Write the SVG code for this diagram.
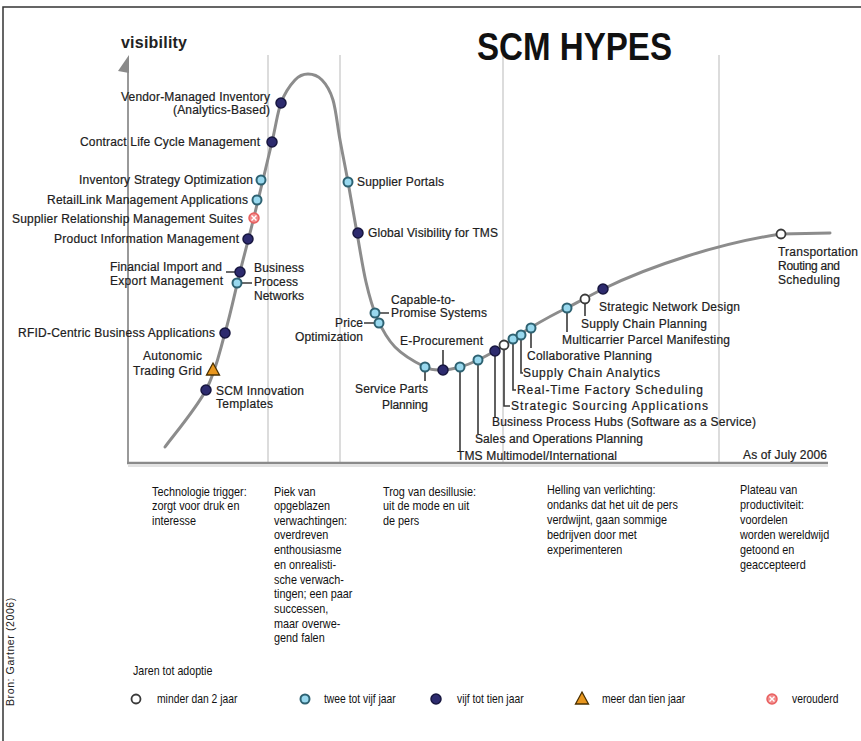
<svg xmlns="http://www.w3.org/2000/svg" width="861" height="741" viewBox="0 0 861 741">
<style>
.lbl{font-family:"Liberation Sans",Arial,sans-serif;font-size:12px;fill:#202020;stroke:#202020;stroke-width:0.2}
.e{text-anchor:end}
.desc{font-family:"Liberation Sans",Arial,sans-serif;font-size:13.4px;fill:#111}
.leg{font-family:"Liberation Sans",Arial,sans-serif;font-size:12.6px;fill:#111}
.d{fill:#2d2b6e;stroke:#17163f;stroke-width:1.5}
.l{fill:#98d8ee;stroke:#2e6272;stroke-width:2}
.w{fill:#fff;stroke:#3a3a3a;stroke-width:1.8}
.ld{stroke:#3a3a3a;stroke-width:1.6;fill:none}
.ph{stroke:#dcdcdc;stroke-width:2}
</style>
<defs>
<g id="obs"><circle r="5" fill="#f28a8a" stroke="#e86060" stroke-width="1.5"/><path d="M-2.5,-2.5L2.5,2.5M2.5,-2.5L-2.5,2.5" stroke="#fff" stroke-width="1.4"/></g>
<path id="tri" d="M0,-7L6.5,5L-6.5,5Z" fill="#e8961e" stroke="#4a3000" stroke-width="1.3"/>
</defs>
<rect width="861" height="741" fill="#fff"/>
<path d="M3,741V7H861" fill="none" stroke="#333" stroke-width="1.5"/>

<g id="frame">
<line class="ph" x1="268" y1="55" x2="268" y2="462"/>
<line class="ph" x1="340" y1="55" x2="340" y2="462"/>
<line class="ph" x1="503" y1="55" x2="503" y2="462"/>
<line class="ph" x1="719" y1="55" x2="719" y2="462"/>
<line x1="128" y1="66" x2="128" y2="464" stroke="#777" stroke-width="1.5"/>
<polygon points="129,55 129,73 118,71" fill="#8a8a8a"/>
<line x1="127" y1="463" x2="828" y2="463" stroke="#8a8a8a" stroke-width="2.5"/>
<line x1="128" y1="466" x2="828" y2="466" stroke="#d8d8d8" stroke-width="1.5"/>
<text x="121" y="48" style="font-family:'Liberation Sans',Arial,sans-serif;font-weight:bold;font-size:16px;fill:#222" textLength="66">visibility</text>
<text x="477" y="60" style="font-family:'Liberation Sans',Arial,sans-serif;font-weight:bold;font-size:38px;fill:#111" textLength="195" lengthAdjust="spacingAndGlyphs">SCM HYPES</text>
<text class="lbl" x="743" y="459" textLength="84">As of July 2006</text>
</g>

<g id="connectors">
<path d="M165,447 C171.8,437.5 196,409 206,390 C216,371 219.3,352.7 225,333 C230.7,313.3 235.2,291.3 240,272 C244.8,252.7 248.7,238.7 254,217 C259.3,195.3 267.5,161 272,142 C276.5,123 277.2,113.3 281,103 C284.8,92.7 290.5,84.8 295,80 C299.5,75.2 303.5,74 308,74 C312.5,74 317.8,75.7 322,80 C326.2,84.3 330,90 333,100 C336,110 337.5,126.3 340,140 C342.5,153.7 345.2,166.5 348,182 C350.8,197.5 354,216.3 357,233 C360,249.7 362.7,267.8 366,282 C369.3,296.2 372.2,307.2 377,318 C381.8,328.8 387,338.8 395,347 C403,355.2 417.2,363.2 425,367 C432.8,370.8 436.2,370 442,370 C447.8,370 454,368.7 460,367 C466,365.3 472.2,362.7 478,360 C483.8,357.3 488,355 495,351 C503.7,345.7 518,335.2 530,328 C542,320.8 555,313.5 567,308 C579,301.6 591,295 603,289 C650,266 720,243 781,234 L830,233" fill="none" stroke="#8c8c8c" stroke-width="3" stroke-linecap="round"/>
<path class="ld" d="M226,272H235M242,283H252M364,323H374M380,313H389M425,372V381M443,350V365M460,372V451M478,365V434M495,356V417M504,350V406H510M513,344V390H516M521,340V373H523M531,332V348M567,313V332M585,304V316"/>
</g>

<g id="n-vmi"><circle class="d" cx="281" cy="103" r="5"/><text class="lbl e" x="270" y="101" textLength="149">Vendor-Managed Inventory</text><text class="lbl e" x="270" y="114" textLength="97">(Analytics-Based)</text></g>
<g id="n-clm"><circle class="d" cx="272" cy="142" r="5"/><text class="lbl e" x="260" y="146" textLength="180">Contract Life Cycle Management</text></g>
<g id="n-iso"><circle class="l" cx="261" cy="180" r="4.5"/><text class="lbl e" x="253" y="184" textLength="174">Inventory Strategy Optimization</text></g>
<g id="n-rla"><circle class="l" cx="257" cy="200" r="4.5"/><text class="lbl e" x="248" y="204" textLength="201">RetailLink Management Applications</text></g>
<g id="n-srm"><use href="#obs" x="254" y="218"/><text class="lbl e" x="243" y="223" textLength="231">Supplier Relationship Management Suites</text></g>
<g id="n-pim"><circle class="d" cx="248" cy="239" r="5"/><text class="lbl e" x="239" y="243" textLength="185">Product Information Management</text></g>
<g id="n-fie"><circle class="d" cx="240" cy="272" r="5"/><text class="lbl e" x="222" y="271" textLength="112">Financial Import and</text><text class="lbl e" x="223" y="285" textLength="113">Export Management</text></g>
<g id="n-bpn"><circle class="l" cx="237" cy="283" r="4.5"/><text class="lbl" x="254" y="272" textLength="50">Business</text><text class="lbl" x="254" y="286" textLength="44">Process</text><text class="lbl" x="254" y="300" textLength="50">Networks</text></g>
<g id="n-rfid"><circle class="d" cx="225" cy="333" r="5"/><text class="lbl e" x="215" y="337" textLength="197">RFID-Centric Business Applications</text></g>
<g id="n-atg"><use href="#tri" x="213" y="370"/><text class="lbl e" x="202" y="360" textLength="59">Autonomic</text><text class="lbl e" x="202" y="375" textLength="69">Trading Grid</text></g>
<g id="n-scm"><circle class="d" cx="206" cy="390" r="5"/><text class="lbl" x="216" y="395" textLength="88">SCM Innovation</text><text class="lbl" x="216" y="408" textLength="57">Templates</text></g>
<g id="n-sp"><circle class="l" cx="348" cy="182" r="4.5"/><text class="lbl" x="357" y="186" textLength="87">Supplier Portals</text></g>
<g id="n-gv"><circle class="d" cx="358" cy="233" r="5"/><text class="lbl" x="368" y="237" textLength="130">Global Visibility for TMS</text></g>
<g id="n-ctp"><circle class="l" cx="375" cy="313" r="4.5"/><text class="lbl" x="391" y="304" textLength="64">Capable-to-</text><text class="lbl" x="391" y="317" textLength="96">Promise Systems</text></g>
<g id="n-po"><circle class="l" cx="379" cy="323" r="4.5"/><text class="lbl e" x="363" y="327" textLength="28">Price</text><text class="lbl e" x="363" y="341" textLength="68">Optimization</text></g>
<g id="n-spp"><circle class="l" cx="425" cy="367" r="4.5"/><text class="lbl e" x="428" y="393" textLength="73">Service Parts</text><text class="lbl e" x="428" y="409" textLength="46">Planning</text></g>
<g id="n-ep"><circle class="d" cx="443" cy="370" r="5"/><text class="lbl" x="400" y="345" textLength="83">E-Procurement</text></g>
<g id="n-tms"><circle class="l" cx="460" cy="367" r="4.5"/><text class="lbl" x="457" y="460" textLength="160">TMS Multimodel/International</text></g>
<g id="n-sop"><circle class="l" cx="478" cy="360" r="4.5"/><text class="lbl" x="475" y="443" textLength="168">Sales and Operations Planning</text></g>
<g id="n-bph"><circle class="d" cx="495" cy="351" r="5"/><text class="lbl" x="492" y="426" textLength="264">Business Process Hubs (Software as a Service)</text></g>
<g id="n-ssa"><circle class="w" cx="504" cy="345" r="4.5"/><text class="lbl" x="511" y="410" textLength="197">Strategic Sourcing Applications</text></g>
<g id="n-rtf"><circle class="l" cx="513" cy="339" r="4.5"/><text class="lbl" x="517" y="394" textLength="186">Real-Time Factory Scheduling</text></g>
<g id="n-sca"><circle class="l" cx="521" cy="335" r="4.5"/><text class="lbl" x="523" y="377" textLength="137">Supply Chain Analytics</text></g>
<g id="n-cp"><circle class="l" cx="531" cy="328" r="4.5"/><text class="lbl" x="527" y="360" textLength="125">Collaborative Planning</text></g>
<g id="n-mpm"><circle class="l" cx="567" cy="308" r="4.5"/><text class="lbl" x="562" y="344" textLength="168">Multicarrier Parcel Manifesting</text></g>
<g id="n-scp"><circle class="w" cx="585" cy="299" r="4.5"/><text class="lbl" x="581" y="328" textLength="126">Supply Chain Planning</text></g>
<g id="n-snd"><circle class="d" cx="603" cy="289" r="5"/><text class="lbl" x="599" y="311" textLength="141">Strategic Network Design</text></g>
<g id="n-trs"><circle class="w" cx="781" cy="234" r="4.5"/><text class="lbl" x="778" y="256" textLength="80">Transportation</text><text class="lbl" x="778" y="270" textLength="62">Routing and</text><text class="lbl" x="778" y="284" textLength="62">Scheduling</text></g>

<g id="phases" class="desc">
<g transform="translate(152,0) scale(0.81,1)">
<text y="496">Technologie trigger:</text>
<text y="510">zorgt voor druk en</text>
<text y="525">interesse</text>
</g>
<g transform="translate(274,0) scale(0.81,1)">
<text y="496">Piek van</text>
<text y="510">opgeblazen</text>
<text y="525">verwachtingen:</text>
<text y="539">overdreven</text>
<text y="554">enthousiasme</text>
<text y="569">en onrealisti-</text>
<text y="584">sche verwach-</text>
<text y="598">tingen; een paar</text>
<text y="613">successen,</text>
<text y="628">maar overwe-</text>
<text y="642">gend falen</text>
</g>
<g transform="translate(383,0) scale(0.81,1)">
<text y="496">Trog van desillusie:</text>
<text y="510">uit de mode en uit</text>
<text y="525">de pers</text>
</g>
<g transform="translate(547,0) scale(0.81,1)">
<text y="494">Helling van verlichting:</text>
<text y="509">ondanks dat het uit de pers</text>
<text y="524">verdwijnt, gaan sommige</text>
<text y="539">bedrijven door met</text>
<text y="554">experimenteren</text>
</g>
<g transform="translate(740,0) scale(0.81,1)">
<text y="494">Plateau van</text>
<text y="509">productiviteit:</text>
<text y="524">voordelen</text>
<text y="539">worden wereldwijd</text>
<text y="554">getoond en</text>
<text y="569">geaccepteerd</text>
</g>
</g>

<g id="legend" class="leg">
<text transform="translate(133,675) scale(0.82,1)" style="font-size:13px">Jaren tot adoptie</text>
<circle class="w" cx="136" cy="699" r="4.5"/><text transform="translate(157,703) scale(0.82,1)">minder dan 2 jaar</text>
<circle class="l" cx="305" cy="699" r="4.5"/><text transform="translate(324,703) scale(0.82,1)">twee tot vijf jaar</text>
<circle class="d" cx="436" cy="699" r="5"/><text transform="translate(457,703) scale(0.82,1)">vijf tot tien jaar</text>
<use href="#tri" x="582" y="699"/><text transform="translate(602,703) scale(0.82,1)">meer dan tien jaar</text>
<use href="#obs" x="772" y="699"/><text transform="translate(792,703) scale(0.82,1)">verouderd</text>
</g>
<text transform="translate(14,706) rotate(-90)" style="font-family:'Liberation Sans',Arial,sans-serif;font-size:10.5px;fill:#222;letter-spacing:0.6px">Bron: Gartner (2006)</text>
</svg>
